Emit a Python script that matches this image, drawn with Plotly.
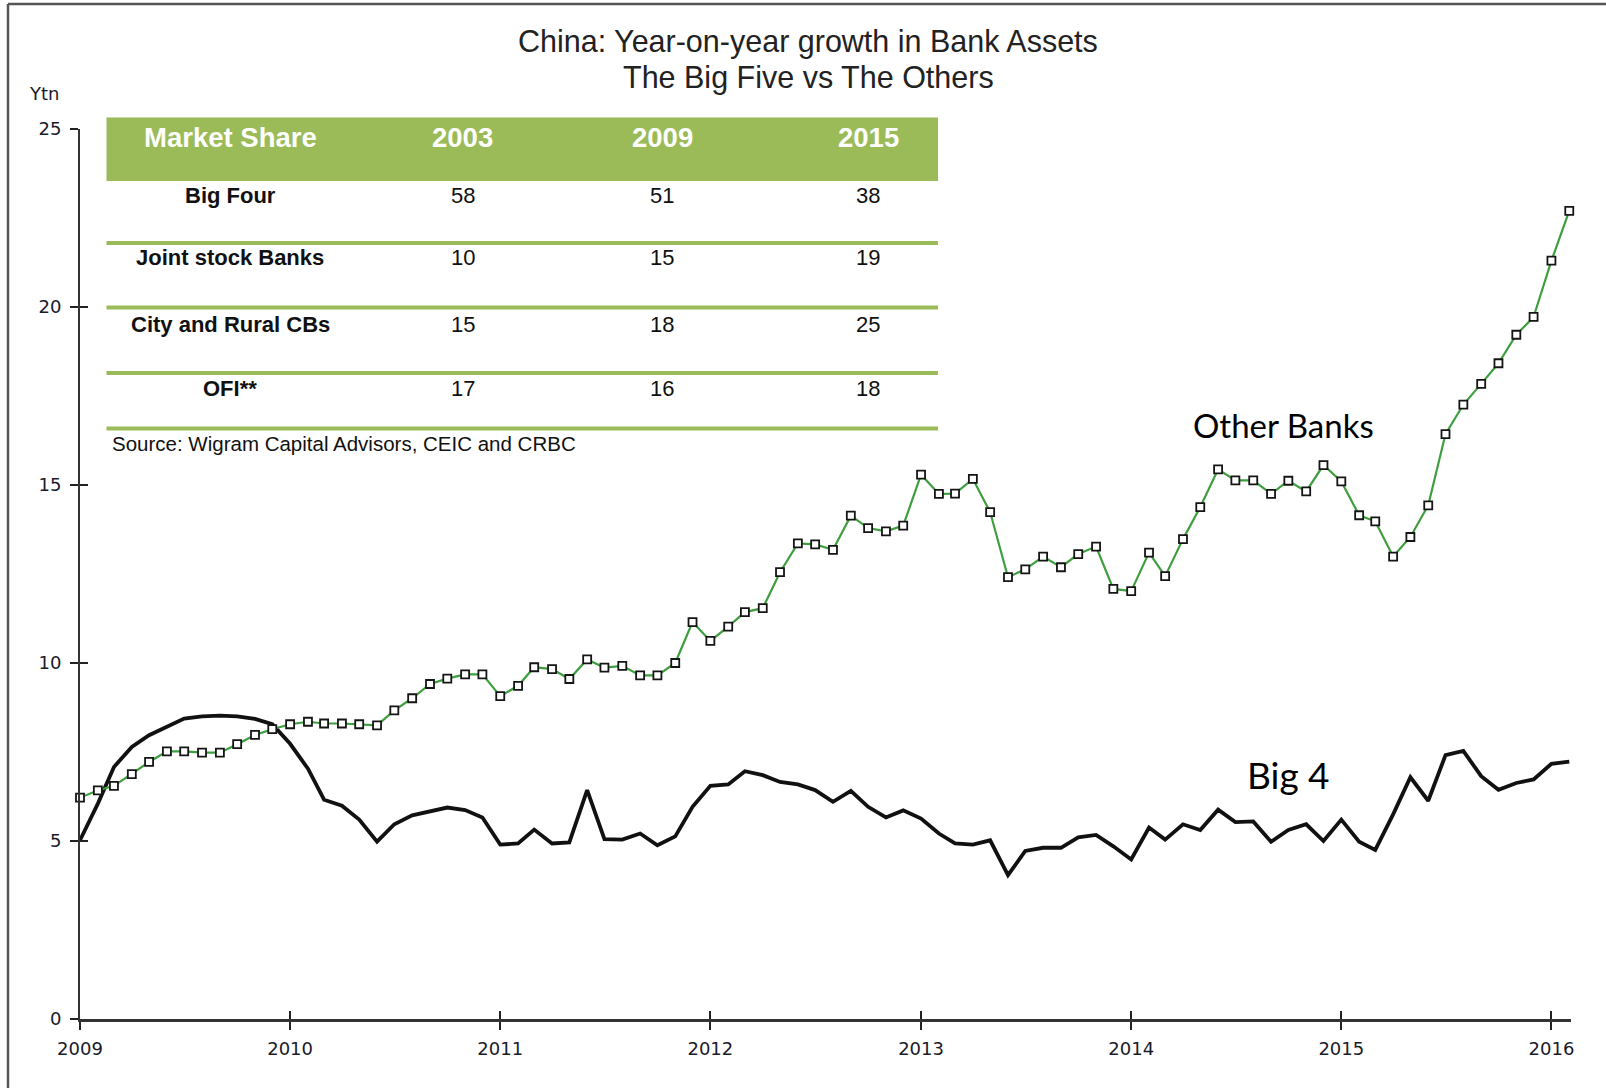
import pandas as pd
import plotly.graph_objects as go

# ---------------- data ----------------
months = pd.date_range("2009-01-01", periods=86, freq="MS").strftime("%Y-%m-%d").tolist()

other_banks = [
    6.22, 6.42, 6.55, 6.88, 7.22, 7.52, 7.52, 7.48, 7.48, 7.72, 7.98, 8.14,
    8.28, 8.35, 8.30, 8.30, 8.28, 8.25, 8.67, 9.01, 9.41, 9.56, 9.68, 9.68,
    9.07, 9.36, 9.88, 9.83, 9.55, 10.10, 9.87, 9.92, 9.65, 9.65, 10.00, 11.15,
    10.62, 11.02, 11.43, 11.54, 12.55, 13.36, 13.33, 13.18, 14.14, 13.79, 13.70, 13.86,
    15.29, 14.75, 14.76, 15.17, 14.24, 12.41, 12.63, 12.99, 12.69, 13.06, 13.27, 12.08,
    12.02, 13.10, 12.44, 13.48, 14.38, 15.44, 15.13, 15.13, 14.75, 15.12, 14.82, 15.56,
    15.10, 14.15, 13.98, 12.99, 13.54, 14.43, 16.43, 17.26, 17.84, 18.42, 19.22, 19.72,
    21.30, 22.70,
]

big_four = [
    5.02, 6.05, 7.08, 7.64, 7.97, 8.22, 8.44, 8.50, 8.52, 8.50, 8.43, 8.28,
    7.73, 7.03, 6.16, 5.99, 5.60, 4.98, 5.47, 5.72, 5.82, 5.94, 5.87, 5.66,
    4.90, 4.93, 5.32, 4.93, 4.96, 6.43, 5.05, 5.04, 5.21, 4.88, 5.13, 5.96,
    6.55, 6.59, 6.96, 6.85, 6.66, 6.59, 6.43, 6.10, 6.41, 5.96, 5.66, 5.86,
    5.63, 5.21, 4.93, 4.90, 5.02, 4.04, 4.72, 4.81, 4.81, 5.10, 5.17, 4.85,
    4.48, 5.38, 5.04, 5.47, 5.31, 5.88, 5.53, 5.55, 4.98, 5.31, 5.47, 5.00,
    5.60, 4.98, 4.75, 5.75, 6.79, 6.13, 7.41, 7.53, 6.82, 6.44, 6.63, 6.73,
    7.17, 7.23,
]

year_ticks = [2009, 2010, 2011, 2012, 2013, 2014, 2015, 2016]
y_ticks = [0, 5, 10, 15, 20, 25]

title_lines = ["China: Year-on-year growth in Bank Assets", "The Big Five vs The Others"]
table_header = ["Market Share", "2003", "2009", "2015"]
table_rows = ["Big Four", "Joint stock Banks", "City and Rural CBs", "OFI**"]
share_2003 = [58, 10, 15, 17]
share_2009 = [51, 15, 18, 16]
share_2015 = [38, 19, 25, 18]
source_note = "Source: Wigram Capital Advisors, CEIC and CRBC"
series_labels = ["Other Banks", "Big 4"]
y_unit = "Ytn"

# ---------------- layout geometry (pixels) ----------------
W, H = 1606, 1088
L, R, T, B = 80, 35, 129, 69
PW, PH = W - L - R, H - T - B


def px(x):
    return (x - L) / PW


def py(y):
    return (H - B - y) / PH


GREEN = "#9BBB59"
SANS = "Liberation Sans, Arial, sans-serif"
TICKF = "DejaVu Sans, Verdana, sans-serif"

fig = go.Figure()

fig.add_trace(go.Scatter(
    x=months, y=big_four, mode="lines", name=series_labels[1],
    line=dict(color="#111111", width=3.8), cliponaxis=False, hoverinfo="x+y",
))
fig.add_trace(go.Scatter(
    x=months, y=other_banks, mode="lines+markers", name=series_labels[0],
    line=dict(color="#3f9e3f", width=2.2),
    marker=dict(symbol="square", size=8, color="white", line=dict(color="#151515", width=1.8)),
    cliponaxis=False, hoverinfo="x+y",
))
# dummy trace for the overlay axes that draw the inner half of the crossing ticks
fig.add_trace(go.Scatter(x=[None], y=[None], xaxis="x2", yaxis="y2",
                         showlegend=False, hoverinfo="skip"))

x_range = ["2009-01-01", "2016-02-04"]
x_tickvals = [f"{y}-01-01" for y in year_ticks]
x_ticktext = [str(y) for y in year_ticks]

fig.update_layout(
    width=W, height=H,
    margin=dict(l=L, r=R, t=T, b=B, pad=0),
    paper_bgcolor="white", plot_bgcolor="white",
    showlegend=False,
    xaxis=dict(
        type="date", range=x_range, tickvals=x_tickvals, ticktext=x_ticktext,
        ticks="outside", ticklen=8, tickwidth=1.5, tickcolor="#222",
        showline=True, linecolor="#333", linewidth=3,
        showgrid=False, zeroline=False,
        tickfont=dict(family=TICKF, size=18, color="#1a1a2a"),
        ticklabelstandoff=3,
    ),
    yaxis=dict(
        range=[0, 25], tickvals=y_ticks,
        ticks="outside", ticklen=8, tickwidth=1.5, tickcolor="#222",
        showline=True, linecolor="#333", linewidth=2,
        showgrid=False, zeroline=False,
        tickfont=dict(family=TICKF, size=18, color="#1a1a2a"),
        ticklabelstandoff=5,
    ),
    xaxis2=dict(
        type="date", range=x_range, tickvals=x_tickvals, overlaying="x", anchor="y2",
        side="bottom", ticks="inside", ticklen=8, tickwidth=1.5, tickcolor="#222",
        showticklabels=False, showline=False, showgrid=False, zeroline=False,
    ),
    yaxis2=dict(
        range=[0, 25], tickvals=y_ticks, overlaying="y", anchor="x2", side="left",
        ticks="inside", ticklen=8, tickwidth=1.5, tickcolor="#222",
        showticklabels=False, showline=False, showgrid=False, zeroline=False,
    ),
)

shapes = []
annotations = []

# frame (left and top border)
shapes.append(dict(type="line", xref="paper", yref="paper",
                   x0=px(8), x1=px(8), y0=py(H + 5), y1=py(4),
                   line=dict(color="#555", width=2.5)))
shapes.append(dict(type="line", xref="paper", yref="paper",
                   x0=px(8), x1=px(W + 5), y0=py(4), y1=py(4),
                   line=dict(color="#555", width=2.5)))

# title
for text, yc in zip(title_lines, [41, 78]):
    annotations.append(dict(text=text, xref="paper", yref="paper", x=px(808), y=py(yc),
                            xanchor="center", yanchor="middle", showarrow=False,
                            font=dict(family=SANS, size=30.5, color="#222")))

# unit label
annotations.append(dict(text=y_unit, xref="paper", yref="paper", x=px(44), y=py(93),
                        xanchor="center", yanchor="middle", showarrow=False,
                        font=dict(family=TICKF, size=18, color="#1a1a2a")))

# table
tx0, tx1 = 106.5, 938
shapes.append(dict(type="rect", xref="paper", yref="paper",
                   x0=px(tx0), x1=px(tx1), y0=py(181), y1=py(117.5),
                   line=dict(width=0), fillcolor=GREEN, layer="below"))
col_x = [230, 463, 662, 868]
header_y = 138
row_y = [195, 257.5, 324, 388.5]
sep_y = [243, 307.5, 373, 428.5]

for txt, cx in zip(table_header, col_x):
    annotations.append(dict(text=f"<b>{txt}</b>", xref="paper", yref="paper",
                            x=px(cx), y=py(header_y), xanchor="center", yanchor="middle",
                            showarrow=False, font=dict(family=SANS, size=27.5, color="white")))

for i, label in enumerate(table_rows):
    annotations.append(dict(text=f"<b>{label}</b>", xref="paper", yref="paper",
                            x=px(col_x[0]), y=py(row_y[i]), xanchor="center", yanchor="middle",
                            showarrow=False, font=dict(family=SANS, size=22, color="#111")))
    for cx, vals in zip(col_x[1:], [share_2003, share_2009, share_2015]):
        annotations.append(dict(text=str(vals[i]), xref="paper", yref="paper",
                                x=px(cx), y=py(row_y[i]), xanchor="center", yanchor="middle",
                                showarrow=False, font=dict(family=SANS, size=22, color="#111")))

for sy in sep_y:
    shapes.append(dict(type="line", xref="paper", yref="paper",
                       x0=px(tx0), x1=px(tx1), y0=py(sy), y1=py(sy),
                       line=dict(color=GREEN, width=4)))

annotations.append(dict(text=source_note, xref="paper", yref="paper",
                        x=px(110), y=py(443), xanchor="left", yanchor="middle",
                        showarrow=False, font=dict(family=SANS, size=20.5, color="#111")))

# series labels
annotations.append(dict(text=series_labels[0], xref="paper", yref="paper",
                        x=px(1283), y=py(425), xanchor="center", yanchor="middle",
                        showarrow=False, font=dict(family="Lato, Open Sans, sans-serif", size=33, color="#000")))
annotations.append(dict(text=series_labels[1], xref="paper", yref="paper",
                        x=px(1288), y=py(774), xanchor="center", yanchor="middle",
                        showarrow=False, font=dict(family="Lato, Open Sans, sans-serif", size=37, color="#000")))

fig.update_layout(shapes=shapes, annotations=annotations)

fig.write_html("out.html")
